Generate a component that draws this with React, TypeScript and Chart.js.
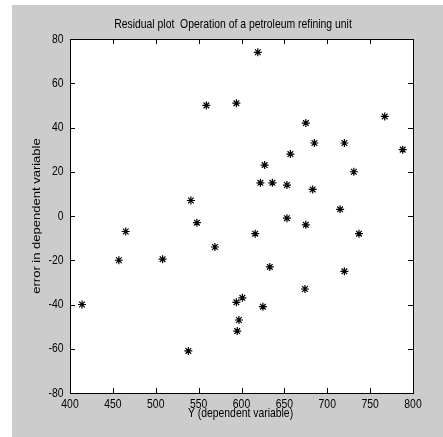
import React, { useEffect, useRef } from "react";
import { Chart, registerables } from "chart.js";

Chart.register(...registerables);

const titleText = "Residual plot  Operation of a petroleum refining unit";
const xAxisLabel = "Y (dependent variable)";
const yAxisLabel = "error in dependent variable";

const xTicks = [400, 450, 500, 550, 600, 650, 700, 750, 800];
const yTicks = [-80, -60, -40, -20, 0, 20, 40, 60, 80];

// fitted (dependent variable) values
const fittedY = [
  559, 594, 541, 619, 675, 767, 685, 720, 788, 657, 627, 731, 622, 636, 653, 683,
  715, 653, 675, 616, 737, 633, 720, 674, 601, 625, 548, 465, 569, 457, 508, 414,
  594, 597, 595, 538,
];
// residuals (error in dependent variable)
const residuals = [
  50, 51, 7, 74, 42, 45, 33, 33, 30, 28, 23, 20, 15, 15, 14, 12,
  3, -1, -4, -8, -8, -23, -25, -33, -37, -41, -3, -7, -14, -20, -19.5, -40,
  -39, -47, -52, -61,
];

const FONT = '13px "Liberation Sans", Arial, sans-serif';
const SQUASH = 0.8;

function drawText(
  ctx: CanvasRenderingContext2D,
  text: string,
  x: number,
  y: number,
  align: CanvasTextAlign,
  rotate = false
) {
  ctx.save();
  ctx.translate(x, y);
  if (rotate) {
    ctx.rotate(-Math.PI / 2);
    ctx.scale(1, SQUASH);
  } else {
    ctx.scale(SQUASH, 1);
  }
  ctx.font = FONT;
  ctx.fillStyle = "#000000";
  ctx.textAlign = align;
  ctx.textBaseline = "middle";
  ctx.fillText(text, 0, 0);
  ctx.restore();
}

const framePlugin = {
  id: "matlabFrame",
  beforeDraw(chart: any) {
    const { ctx, width, height, chartArea: a } = chart;
    ctx.save();
    ctx.fillStyle = "#ffffff";
    ctx.fillRect(0, 0, width, height);
    ctx.fillStyle = "#cccccc";
    ctx.fillRect(12, 5, width - 12, height - 5);
    ctx.fillStyle = "#ffffff";
    ctx.fillRect(a.left, a.top, a.right - a.left, a.bottom - a.top);
    ctx.restore();
  },
  afterDraw(chart: any) {
    const { ctx, chartArea: a, scales } = chart;
    const xs = scales.x;
    const ys = scales.y;
    const tl = 5;
    ctx.save();
    ctx.strokeStyle = "#000000";
    ctx.lineWidth = 1;
    ctx.beginPath();
    for (const v of xTicks) {
      const px = Math.round(xs.getPixelForValue(v)) + 0.5;
      ctx.moveTo(px, a.top);
      ctx.lineTo(px, a.top + tl);
      ctx.moveTo(px, a.bottom);
      ctx.lineTo(px, a.bottom - tl);
    }
    for (const v of yTicks) {
      const py = Math.round(ys.getPixelForValue(v)) + 0.5;
      ctx.moveTo(a.left, py);
      ctx.lineTo(a.left + tl, py);
      ctx.moveTo(a.right, py);
      ctx.lineTo(a.right - tl, py);
    }
    ctx.stroke();
    ctx.strokeRect(
      Math.round(a.left) + 0.5,
      Math.round(a.top) + 0.5,
      Math.round(a.right - a.left),
      Math.round(a.bottom - a.top)
    );
    ctx.restore();

    for (const v of xTicks) {
      drawText(ctx, String(v), xs.getPixelForValue(v), a.bottom + 11, "center");
    }
    for (const v of yTicks) {
      drawText(ctx, String(v), a.left - 6.5, ys.getPixelForValue(v), "right");
    }
    drawText(ctx, titleText, (a.left + a.right) / 2 - 8.5, 24.5, "center");
    drawText(ctx, xAxisLabel, (a.left + a.right) / 2 - 1, a.bottom + 20, "center");
    drawText(ctx, yAxisLabel, 37, (a.top + a.bottom) / 2, "center", true);
  },
};

export default function App() {
  const ref = useRef<HTMLCanvasElement>(null);

  useEffect(() => {
    if (!ref.current) return;
    const points = fittedY.map((x, i) => ({ x, y: residuals[i] }));
    const chart = new Chart(ref.current, {
      type: "scatter",
      data: {
        datasets: [
          {
            data: points,
            pointStyle: "star",
            pointRadius: 4,
            pointBorderWidth: 1.2,
            borderColor: "#000000",
            backgroundColor: "#000000",
          },
        ],
      },
      options: {
        animation: false,
        responsive: false,
        devicePixelRatio: 1,
        layout: { padding: { top: 39, right: 30, left: 0, bottom: 0 } },
        plugins: {
          legend: { display: false },
          tooltip: { enabled: false },
          title: { display: false },
        },
        scales: {
          x: {
            type: "linear",
            min: 400,
            max: 800,
            afterBuildTicks: (s: any) => {
              s.ticks = xTicks.map((v) => ({ value: v }));
            },
            afterFit: (s: any) => {
              s.height = 44;
            },
            grid: { display: false, drawTicks: false },
            border: { display: false },
            ticks: { display: false },
          },
          y: {
            type: "linear",
            min: -80,
            max: 80,
            afterBuildTicks: (s: any) => {
              s.ticks = yTicks.map((v) => ({ value: v }));
            },
            afterFit: (s: any) => {
              s.width = 70;
            },
            grid: { display: false, drawTicks: false },
            border: { display: false },
            ticks: { display: false },
          },
        },
      },
      plugins: [framePlugin],
    } as any);
    return () => chart.destroy();
  }, []);

  return (
    <div style={{ position: "fixed", left: 0, top: 0, width: 443, height: 437 }}>
      <canvas ref={ref} width={443} height={437} />
    </div>
  );
}
